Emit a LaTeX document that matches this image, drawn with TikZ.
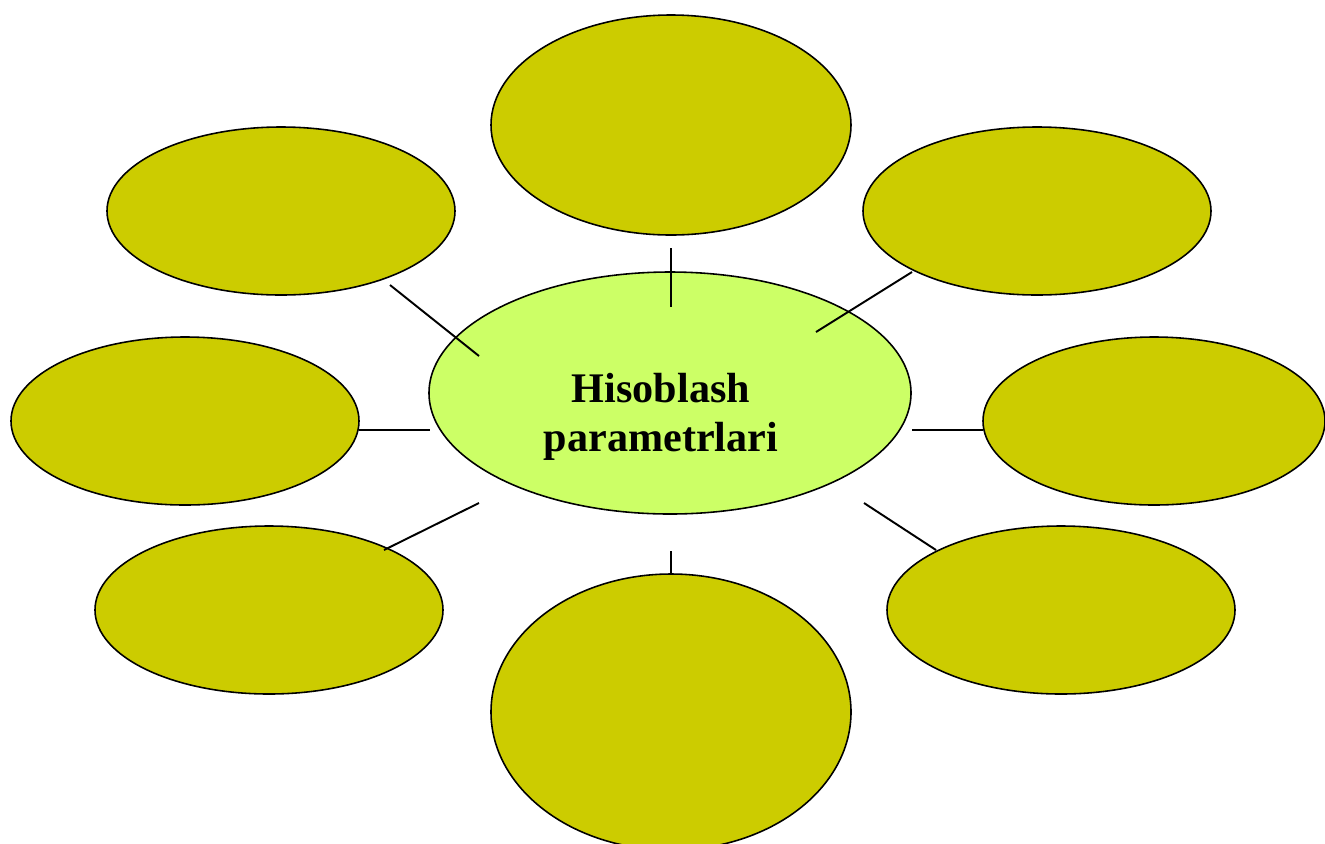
\documentclass[tikz,border=0pt]{standalone}
\usepackage{fontspec}
\setmainfont{Liberation Serif}
\usetikzlibrary{shapes.geometric}

\definecolor{olivefill}{HTML}{CCCC00}
\definecolor{limefill}{HTML}{CCFF66}

\begin{document}
\begin{tikzpicture}[x=0.02cm, y=-0.02cm,
    bubble/.style={draw, ellipse, fill=olivefill, line width=0.9pt, inner sep=0pt, minimum width=348*0.02cm, minimum height=168*0.02cm},
    bigbubble/.style={bubble, minimum width=360*0.02cm},
    stick/.style={line width=1.1pt}]
    \useasboundingbox (0,0) rectangle (1325,843);

    % markaziy ellips
    \node[draw, ellipse, fill=limefill, line width=0.9pt, minimum width=482*0.02cm, minimum height=242*0.02cm] (center) at (670,393) {};
    \node[font=\bfseries\fontsize{24}{28}\selectfont, align=center] (title) at (661,417) {Hisoblash\\parametrlari};

    % atrofdagi ellipslar
    \node[bigbubble, minimum height=220*0.02cm] (top) at (671,125) {};
    \node[bubble] (topleft) at (281,211) {};
    \node[bubble] (topright) at (1037,211) {};
    \node[bubble] (left) at (185,421) {};
    \node[bubble, minimum width=342*0.02cm] (right) at (1154,421) {};
    \node[bubble] (botleft) at (269,610) {};
    \node[bubble] (botright) at (1061,610) {};
    \node[bigbubble, minimum height=276*0.02cm] (bottom) at (671,712) {};

    % chiziqlar uchlari
    \coordinate (tl1) at (390,285);  \coordinate (tl2) at (479,356);
    \coordinate (t1) at (671,248);   \coordinate (t2) at (671,307);
    \coordinate (tr1) at (912,272);  \coordinate (tr2) at (816,332);
    \coordinate (l1) at (359,430);   \coordinate (l2) at (430,430);
    \coordinate (r1) at (912,430);   \coordinate (r2) at (983,430);
    \coordinate (bl1) at (479,503);  \coordinate (bl2) at (384,550);
    \coordinate (br1) at (864,503);  \coordinate (br2) at (936,550);
    \coordinate (b1) at (671,551);   \coordinate (b2) at (671,574);

    % chiziqlar
    \draw[stick] (tl1) -- (tl2);
    \draw[stick] (t1) -- (t2);
    \draw[stick] (tr1) -- (tr2);
    \draw[stick] (l1) -- (l2);
    \draw[stick] (r1) -- (r2);
    \draw[stick] (bl1) -- (bl2);
    \draw[stick] (br1) -- (br2);
    \draw[stick] (b1) -- (b2);
\end{tikzpicture}
\end{document}
